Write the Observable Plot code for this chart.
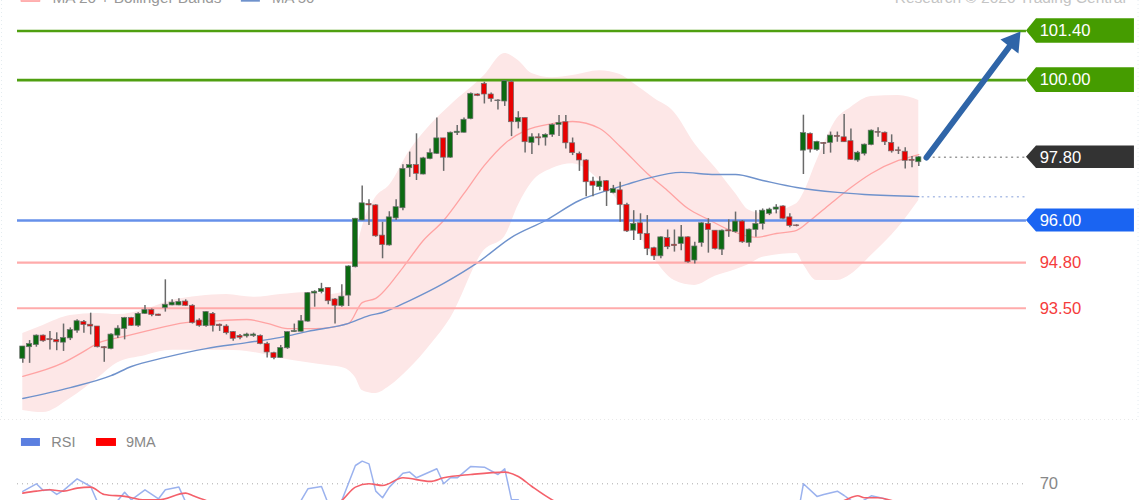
<!DOCTYPE html>
<html>
<head>
<meta charset="utf-8">
<script src="https://cdn.jsdelivr.net/npm/d3@7"></script>
<script src="https://cdn.jsdelivr.net/npm/@observablehq/plot@0.6"></script>
<style>
html,body{margin:0;padding:0;background:#fff;overflow:hidden}
svg{display:block}
</style>
</head>
<body>
<div id="chart"></div>
<script>
// OHLC prices, one entry per session
const open = [92.06,92.39,92.45,92.72,92.62,92.60,92.52,92.64,92.86,93.11,93.03,92.98,92.39,92.34,92.72,92.91,93.22,93.00,93.34,93.45,93.32,93.51,93.58,93.58,93.69,93.57,93.15,92.99,93.34,93.03,92.98,92.82,92.71,92.70,92.71,92.71,92.48,92.22,92.08,92.36,92.82,92.83,93.12,93.92,93.96,94.08,93.75,93.56,93.86,94.67,96.00,96.47,96.43,95.57,95.29,96.06,96.35,97.49,97.58,97.31,97.75,97.90,98.34,97.79,98.49,98.50,98.89,99.59,99.89,99.59,99.42,99.39,99.94,98.80,98.92,98.21,98.37,98.36,98.44,98.72,98.80,98.20,97.90,97.71,97.11,96.95,97.12,96.78,96.86,96.44,95.71,95.92,95.62,95.21,94.98,95.50,95.31,95.33,95.52,94.86,95.36,95.90,95.71,95.17,95.72,95.67,95.97,95.36,95.73,95.90,96.19,96.31,96.40,96.09,95.86,97.99,98.47,98.01,98.21,98.21,98.41,98.37,98.26,97.71,97.90,98.15,98.52,98.50,98.21,98.00,97.96,97.73,97.66];
const high = [92.41,92.58,92.74,92.74,92.84,92.80,93.05,92.94,93.17,93.15,93.36,92.98,92.41,92.77,93.00,93.24,93.24,93.37,93.58,93.48,93.33,94.31,93.74,93.77,93.74,93.60,93.20,93.41,93.38,93.05,93.03,92.84,92.75,92.79,92.79,92.74,92.53,92.25,92.44,92.83,93.05,93.29,93.95,94.00,94.21,94.08,93.78,94.17,94.71,96.06,96.98,96.59,96.45,95.95,96.25,96.59,97.59,97.95,98.47,97.80,98.04,98.92,98.34,98.52,98.71,98.92,99.63,99.61,99.94,99.63,99.44,99.99,99.99,99.10,98.92,98.47,98.47,98.47,98.75,98.99,98.99,98.35,97.95,97.73,97.23,97.25,97.14,97.00,97.09,96.49,96.28,96.19,96.14,95.24,95.54,95.73,95.73,95.86,95.54,95.38,95.94,96.05,95.71,95.73,96.02,96.24,96.00,95.76,96.28,96.33,96.35,96.45,96.42,96.19,95.88,99.00,98.49,98.26,98.22,98.52,98.52,99.02,98.61,97.97,98.18,98.58,98.64,98.52,98.44,98.09,98.07,97.82,97.82];
const low = [91.93,91.93,92.39,92.53,92.31,92.29,92.27,92.58,92.79,92.79,92.74,92.37,91.96,92.32,92.64,92.60,92.98,92.96,93.32,93.26,93.27,93.39,93.57,93.57,93.55,93.05,92.96,92.96,92.82,92.84,92.74,92.56,92.60,92.65,92.67,92.46,92.08,92.03,92.07,92.33,92.81,92.82,93.10,93.53,93.91,93.60,93.05,93.53,93.55,94.65,95.99,95.86,95.52,94.91,95.27,96.00,96.28,97.23,97.14,97.30,97.73,97.88,97.40,97.77,98.42,98.49,98.87,99.53,99.32,99.37,99.15,99.25,98.39,98.61,97.92,97.88,98.13,98.12,98.37,98.39,98.04,97.85,97.40,96.68,96.68,96.85,96.40,96.76,95.95,95.66,95.43,95.43,95.00,94.86,94.91,95.17,95.10,95.14,94.78,94.76,95.24,95.07,95.16,95.00,95.52,95.64,95.35,95.24,95.52,95.73,96.14,96.19,96.02,95.79,95.82,97.31,97.92,97.97,97.88,97.92,98.23,98.22,97.71,97.66,97.84,98.13,98.37,98.14,97.92,97.88,97.47,97.50,97.54];
const close = [92.41,92.48,92.72,92.56,92.59,92.53,92.65,92.88,93.13,93.02,92.98,92.39,92.36,92.75,92.92,93.22,93.00,93.34,93.45,93.31,93.28,93.60,93.66,93.68,93.57,93.08,93.00,93.39,93.00,92.99,92.79,92.63,92.66,92.75,92.75,92.48,92.24,92.08,92.37,92.82,92.85,93.13,93.93,93.97,94.05,93.70,93.57,93.83,94.69,96.05,96.49,96.43,95.55,95.30,96.09,96.38,97.47,97.58,97.33,97.77,97.92,98.34,97.79,98.50,98.53,98.87,99.61,99.55,99.59,99.46,99.40,99.97,98.80,98.92,98.23,98.37,98.34,98.44,98.72,98.78,98.20,97.92,97.71,97.09,96.99,97.11,96.83,96.90,96.44,95.69,95.90,95.62,95.19,94.98,95.52,95.24,95.27,95.52,94.81,95.26,95.92,95.73,95.19,95.71,95.69,95.97,95.38,95.74,95.90,96.28,96.31,96.37,96.05,95.84,95.84,98.49,98.02,98.24,98.18,98.42,98.38,98.23,97.73,97.93,98.16,98.56,98.50,98.23,97.97,97.98,97.70,97.70,97.80];

// Moving averages and Bollinger bands, read at selected sessions
const ma20Session = [1,7,10,12,16,19,25,30,34,37,40,44,49,51,53,57,60,63,66,69,72,75,79,82,86,89,93,96,99,102,105,109,112,115,117,120,123,126,130,133];
const ma20Value = [91.56,91.95,92.27,92.50,92.70,92.84,93.09,93.15,93.18,93.07,92.92,92.92,93.07,93.66,93.78,94.66,95.43,96.00,96.77,97.57,98.19,98.56,98.76,98.82,98.62,98.11,97.34,96.85,96.34,96.03,95.74,95.52,95.63,95.72,96.00,96.48,96.94,97.34,97.71,97.88];
const ma50Session = [1,8,14,17,22,28,34,39,43,49,52,54,58,63,68,73,78,83,87,90,93,98,103,106,110,115,121,125,133];
const ma50Value = [90.93,91.24,91.58,91.84,92.10,92.35,92.52,92.67,92.84,93.07,93.29,93.38,93.72,94.21,94.80,95.52,96.00,96.57,96.85,97.03,97.20,97.37,97.31,97.31,97.14,96.94,96.80,96.74,96.68];
const bandSession = [1,4,8,12,15,19,23,27,31,35,39,43,46,48,49,50,51,53,55,58,61,64,69,72,74,76,79,82,86,89,91,94,97,100,103,106,108,110,115,116,118,121,123,126,130,133];
const bandUpper = [92.78,93.01,93.29,93.35,93.32,93.46,93.72,93.84,93.89,93.81,93.89,93.95,93.89,93.95,94.15,95.00,95.80,96.66,97.00,97.99,98.71,99.28,100.13,100.76,100.56,100.19,100.07,100.13,100.27,100.16,99.90,99.48,99.08,98.19,97.51,96.77,96.29,96.20,96.48,96.77,97.71,98.91,99.22,99.53,99.56,99.42];
const bandLower = [90.59,90.53,90.93,91.50,91.95,92.15,92.30,92.30,92.30,92.24,92.07,91.95,91.87,91.81,91.73,91.53,91.16,91.07,91.27,91.78,92.44,93.21,95.15,95.54,96.43,97.08,97.48,97.62,97.14,96.48,95.86,94.92,94.29,94.15,94.41,94.60,94.75,94.95,95.06,94.75,94.29,94.29,94.46,95.00,95.80,96.57];

// RSI panel
const rsiSession = [1,3,4,5,6,7,9,11,12,13,14,15,16,17,19,21,22,24,25,26,30,36,38,40,42,43,45,46,47,48,50,51,52,53,54,55,57,58,59,62,63,64,65,67,69,71,72,73,74,75,80,90,100,110,115,116,118,119,121,122,123,124,125,126,128,129,133];
const rsiValue = [64.9,70,65.6,66.2,62.9,65.6,73.3,68.2,57.8,52,56,58.9,64.4,59.3,66,60,66,67.8,57.8,48,44,38,36,46,58.9,66.7,68.2,56.7,54,58.9,82.2,85.1,83.3,65.1,60.7,67.8,77.1,77.8,74,80,70,74,74,81.6,81.1,76.2,80,59.3,59.3,50,48,40,44,50,45,70,61.6,62.9,65.1,62.2,58.9,56.7,59.3,62,60,55,50];
const ma9Session = [1,3,5,7,9,11,13,16,19,21,25,26,28,30,38,44,48,50,52,54,57,61,63,67,72,74,76,79,85,100,114,122,124,125,127,129,133];
const ma9Value = [63.8,65.1,66,65.1,67.1,67.8,62.9,61.6,59.3,59.3,63.8,62.2,58.9,55,48,50,58.9,67.8,70,68.9,74,71.6,74,76.2,77.8,74.9,68.2,59.3,52,46,50,58.9,62,60.7,60.7,58.9,56];

// Price levels
const greenLevels = [101.40, 100.00];
const blueLevels = [96.00];
const pinkLevels = [94.80, 93.50];
const tagLevels = [101.40, 100.00, 97.80, 96.00];
const tagColors = ["#459c00", "#459c00", "#333333", "#1a64f2"];
const tagHalf = [0.35, 0.35, 0.32, 0.33];
const plainLabels = ["94.80", "93.50"];
const lastPrice = 97.80;
const lastMa50 = 96.68;

// layout in session units
const xDomain = [-2.285, 165.66];
const lineStart = 0.22, lineEnd = 148.86, tagShoulder = 150.34, tagEnd = 164.77, tagText = 150.8;
const FONT = "'Liberation Sans', Arial, sans-serif";

const candles = open.map((o, i) => ({k: i + 1, o, h: high[i], l: low[i], c: close[i]}));
const zip = (xs, ys) => xs.map((k, i) => ({k, v: ys[i]}));
const band = bandSession.map((k, i) => ({k, hi: bandUpper[i], lo: bandLower[i]}));
const tagPoints = tagLevels.flatMap((v, i) => [
  {x: lineEnd, hi: v, lo: v, v, fill: tagColors[i]},
  {x: tagShoulder, hi: v + tagHalf[i], lo: v - tagHalf[i], v, fill: tagColors[i]},
  {x: tagEnd, hi: v + tagHalf[i], lo: v - tagHalf[i], v, fill: tagColors[i]}
]);
const tagData = tagLevels.map(v => ({v, t: v.toFixed(2)}));
const hline = (levels, stroke, strokeWidth) => Plot.ruleY(levels, {x1: lineStart, x2: lineEnd, y: d => d, stroke, strokeWidth});

const main = Plot.plot({
  width: 1140, height: 420, margin: 0,
  style: {background: "#fff", fontFamily: FONT},
  x: {domain: xDomain, axis: null},
  y: {domain: [90.302, 102.268], axis: null},
  color: {type: "identity"},
  marks: [
    Plot.ruleY([90.33], {stroke: "#e8e8e8", strokeDasharray: "1 3"}),
    Plot.ruleX([-2.14, 165.3], {stroke: "#e4ecf0", strokeDasharray: "1 3"}),
    Plot.areaY(band, {x: "k", y1: "lo", y2: "hi", fill: "#fde7e7", curve: "monotone-x"}),
    Plot.line(zip(ma20Session, ma20Value), {x: "k", y: "v", stroke: "#ffa3a3", strokeWidth: 1.3, curve: "monotone-x"}),
    Plot.line(zip(ma50Session, ma50Value), {x: "k", y: "v", stroke: "#6f92cc", strokeWidth: 1.4, curve: "monotone-x"}),
    hline(pinkLevels, "#ffabab", 2.2),
    hline(blueLevels, "#6690ea", 2.6),
    hline(greenLevels, "#4f9f10", 2.6),
    Plot.ruleY([lastPrice], {x1: 134.3, x2: lineEnd, stroke: "#999", strokeWidth: 1.5, strokeDasharray: "2 3.6"}),
    Plot.ruleY([lastMa50], {x1: 133.5, x2: lineEnd, stroke: "#aebfe6", strokeWidth: 1.5, strokeDasharray: "2 3.6"}),
    Plot.ruleX(candles, {x: "k", y1: "l", y2: "h", stroke: "#6a6a6a", strokeWidth: 1.5}),
    Plot.rect(candles, {x1: d => d.k - 0.38, x2: d => d.k + 0.38, y1: "o", y2: "c",
      fill: d => d.c >= d.o ? "#0c6a12" : "#e80000", stroke: "#707070", strokeWidth: 0.7}),
    // forecast arrow
    Plot.line([{k: 134.13, v: 97.795}, {k: 146.36, v: 100.957}], {x: "k", y: "v", stroke: "#2f65a8", strokeWidth: 6}),
    Plot.line([{k: 147.98, v: 101.385}, {k: 145.03, v: 101.157}, {k: 147.68, v: 100.758}], {x: "k", y: "v", fill: "#2f65a8", stroke: "none"}),
    // value tags
    Plot.areaY(tagPoints, {x: "x", y1: "lo", y2: "hi", z: "v", fill: "fill", curve: "linear"}),
    Plot.text(tagData, {x: tagText, y: "v", text: "t", fill: "#fff", fontSize: 16.6, textAnchor: "start"}),
    Plot.text(plainLabels, {x: tagText, y: d => +d, text: d => d, fill: "#f53c3c", fontSize: 16.6, textAnchor: "start"}),
    // top legend, cut by the page edge
    Plot.rect([0], {x1: 0.8, x2: 3.6, y1: 102.22, y2: 102.45, fill: "#ffb3b3", stroke: "#ff9c9c", strokeWidth: 0.6}),
    Plot.rect([0], {x1: 33.2, x2: 36, y1: 102.22, y2: 102.45, fill: "#6f92cc"}),
    Plot.text(["MA 20 + Bollinger Bands"], {x: 5.38, y: 102.325, text: d => d, fill: "#999", fontSize: 15.4, textAnchor: "start"}),
    Plot.text(["MA 50"], {x: 37.7, y: 102.325, text: d => d, fill: "#999", fontSize: 15, textAnchor: "start"}),
    Plot.text(["Research © 2020 Trading Central"], {x: 163.5, y: 102.325, text: d => d, fill: "#c4c4c4", fontSize: 15.5, textAnchor: "end"})
  ]
});

const rsiPanel = Plot.plot({
  width: 1140, height: 80, margin: 0,
  style: {background: "#fff", fontFamily: FONT},
  x: {domain: xDomain, axis: null},
  y: {domain: [58.87, 112.2], axis: null},
  marks: [
    Plot.ruleY([70], {x1: lineStart, x2: lineEnd, stroke: "#aaa", strokeWidth: 1, strokeDasharray: "1 4"}),
    Plot.line(zip(rsiSession, rsiValue), {x: "k", y: "v", stroke: "#9bb2ee", strokeWidth: 1.5, clip: true}),
    Plot.line(zip(ma9Session, ma9Value), {x: "k", y: "v", stroke: "#f4606a", strokeWidth: 1.6, curve: "monotone-x", clip: true}),
    Plot.rect([0], {x1: 0.8, x2: 3.6, y1: 94.9, y2: 100.2, fill: "#5b7fe0"}),
    Plot.rect([0], {x1: 11.85, x2: 14.8, y1: 94.9, y2: 100.2, fill: "#ff0000"}),
    Plot.text(["RSI"], {x: 5.2, y: 97.5, text: d => d, fill: "#888", fontSize: 14.5, textAnchor: "start"}),
    Plot.text(["9MA"], {x: 16.2, y: 97.5, text: d => d, fill: "#888", fontSize: 14.5, textAnchor: "start"}),
    Plot.text(["70"], {x: tagText, y: 70, text: d => d, fill: "#888", fontSize: 16.6, textAnchor: "start"})
  ]
});

document.getElementById("chart").append(main, rsiPanel);
</script>
</body>
</html>
